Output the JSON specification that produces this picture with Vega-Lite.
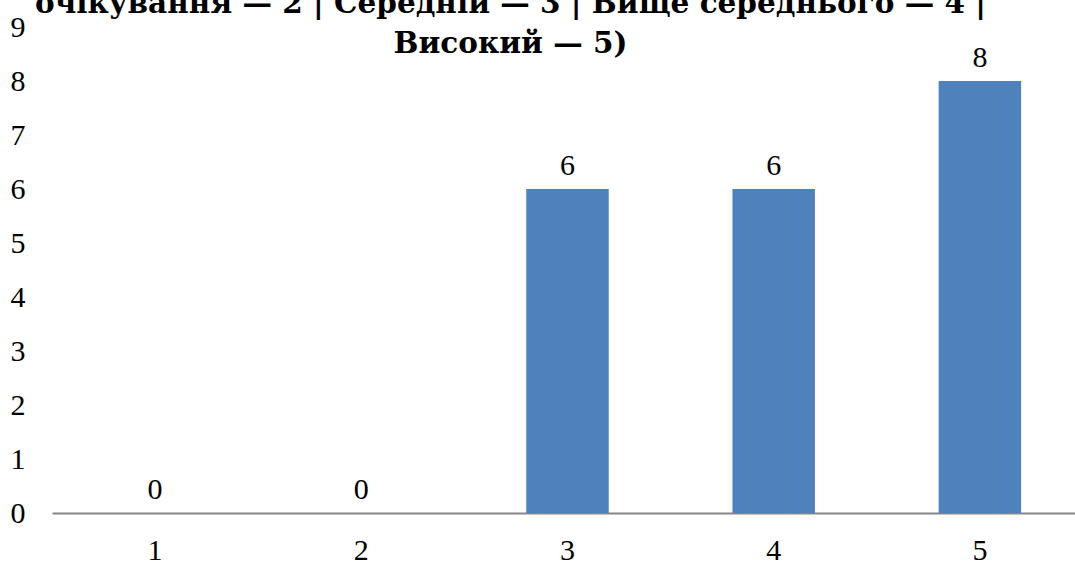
{
  "$schema": "https://vega.github.io/schema/vega-lite/v6.json",
  "autosize": {"type": "none"},
  "width": 1031,
  "height": 486,
  "padding": {"left": 52, "top": 27, "right": 0, "bottom": 52},
  "background": "white",
  "title": {
    "text": ["очікування — 2 | Середній — 3 | Вище середнього — 4 |", "Високий — 5)"],
    "font": "DejaVu Serif",
    "fontSize": 29.5,
    "fontWeight": "bold",
    "color": "black",
    "lineHeight": 40,
    "anchor": "middle",
    "dx": -57,
    "offset": -47
  },
  "data": {
    "values": [
      {"level": "1", "count": 0},
      {"level": "2", "count": 0},
      {"level": "3", "count": 6},
      {"level": "4", "count": 6},
      {"level": "5", "count": 8}
    ]
  },
  "config": {
    "view": {"stroke": null},
    "font": "Liberation Serif"
  },
  "encoding": {
    "x": {
      "field": "level",
      "type": "ordinal",
      "scale": {"paddingInner": 0.6, "paddingOuter": 0.3},
      "axis": {
        "title": null,
        "labelAngle": 0,
        "labelFont": "Liberation Serif",
        "labelFontSize": 30,
        "labelColor": "black",
        "ticks": false,
        "domainColor": "#868686",
        "domainWidth": 2,
        "labelPadding": 22
      }
    },
    "y": {
      "field": "count",
      "type": "quantitative",
      "scale": {"domain": [0, 9], "nice": false},
      "axis": {
        "title": null,
        "values": [0, 1, 2, 3, 4, 5, 6, 7, 8, 9],
        "grid": false,
        "domain": false,
        "ticks": false,
        "labelFont": "Liberation Serif",
        "labelFontSize": 30,
        "labelColor": "black",
        "labelPadding": 27
      }
    }
  },
  "layer": [
    {"mark": {"type": "bar", "color": "#4F81BD"}},
    {
      "mark": {"type": "text", "font": "Liberation Serif", "fontSize": 30, "color": "black", "baseline": "alphabetic", "dy": -14},
      "encoding": {"text": {"field": "count", "type": "quantitative"}}
    }
  ]
}
